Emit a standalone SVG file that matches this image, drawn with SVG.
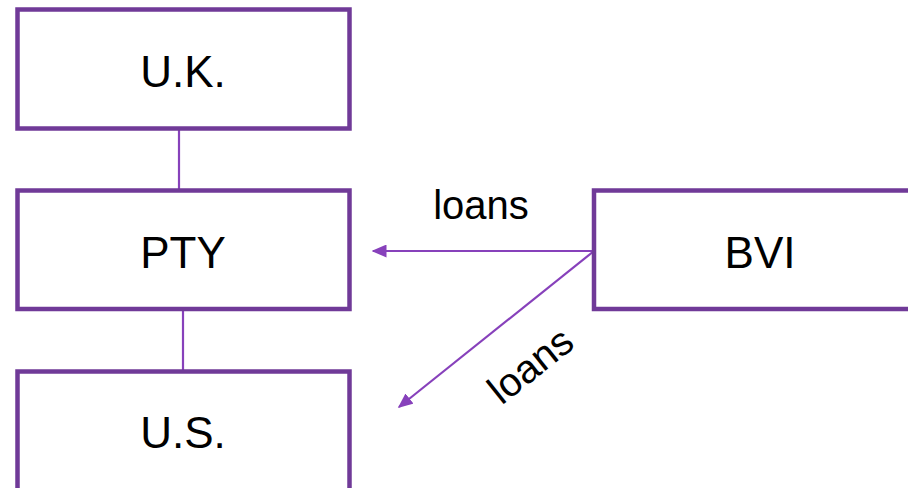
<svg xmlns="http://www.w3.org/2000/svg" width="908" height="488" viewBox="0 0 908 488">
  <defs>
    <marker id="arrow" viewBox="0 0 10 10" refX="9" refY="5" markerWidth="15" markerHeight="13" markerUnits="userSpaceOnUse" orient="auto-start-reverse" preserveAspectRatio="none">
      <path d="M0,0 L10,5 L0,10 z" fill="#8741BB"/>
    </marker>
    <style>
      .box { fill: #ffffff; stroke: #703A98; stroke-width: 4.5; }
      .label { font-family: "Liberation Sans", Arial, sans-serif; font-size: 44px; fill: #000000; text-anchor: middle; }
      .edge { stroke: #8741BB; stroke-width: 2.2; fill: none; }
      .elabel { font-family: "Liberation Sans", Arial, sans-serif; font-size: 40px; fill: #000000; text-anchor: middle; }
    </style>
  </defs>
  <rect width="908" height="488" fill="#ffffff"/>

  <g id="connectors">
    <line class="edge" x1="179" y1="130" x2="179" y2="190"/>
    <line class="edge" x1="183" y1="310" x2="183" y2="371"/>
    <line class="edge" x1="594" y1="251" x2="373" y2="251" marker-end="url(#arrow)"/>
    <line class="edge" x1="594" y1="251" x2="399" y2="407" marker-end="url(#arrow)"/>
    <text class="elabel" x="481" y="219">loans</text>
    <text class="elabel" transform="translate(539,376) rotate(-38.5)">loans</text>
  </g>

  <g id="uk">
    <rect class="box" x="17.5" y="9.5" width="332" height="119"/>
    <text class="label" x="183" y="87">U.K.</text>
  </g>
  <g id="pty">
    <rect class="box" x="17.5" y="190.5" width="332" height="118.5"/>
    <text class="label" x="183" y="268">PTY</text>
  </g>
  <g id="bvi">
    <rect class="box" x="594" y="190.5" width="332" height="118.5"/>
    <text class="label" x="760" y="268">BVI</text>
  </g>
  <g id="us">
    <rect class="box" x="17.5" y="371.5" width="332" height="140"/>
    <text class="label" x="183" y="448">U.S.</text>
  </g>
</svg>
